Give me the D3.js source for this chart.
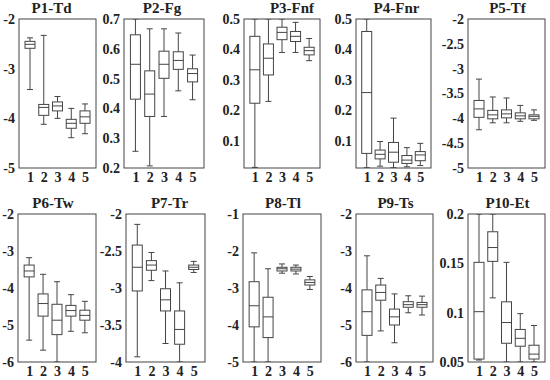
<!DOCTYPE html>
<html>
<head>
<meta charset="utf-8">
<script src="https://cdn.jsdelivr.net/npm/d3@7"></script>
<style>
  body { margin: 0; background: #fff; }
  svg { display: block; }
  .tick text { font-family: "Times New Roman", "Liberation Serif", Tinos, serif; font-weight: bold; font-size: 14px; fill: #222; }
  .title { font-family: "Times New Roman", "Liberation Serif", Tinos, serif; font-weight: bold; font-size: 15px; fill: #222; }
</style>
</head>
<body>
<svg id="chart"></svg>
<script>
// groups on the x axis
let groups = ['1', '2', '3', '4', '5']

// panel titles
let titles = ['P1-Td', 'P2-Fg', 'P3-Fnf', 'P4-Fnr', 'P5-Tf',
              'P6-Tw', 'P7-Tr', 'P8-Tl', 'P9-Ts', 'P10-Et']

// y ranges and tick labels
let yDomains = [[-5, -2], [0.2, 0.7], [0.01, 0.5], [0.01, 0.5], [-5, -2],
                [-6, -2], [-4, -2], [-5, -1], [-6, -2], [0.05, 0.2]]
let yTicks = [
  [-2, -3, -4, -5],
  [0.2, 0.3, 0.4, 0.5, 0.6, 0.7],
  [0.1, 0.2, 0.3, 0.4, 0.5],
  [0.1, 0.2, 0.3, 0.4, 0.5],
  [-2, -2.5, -3, -3.5, -4, -4.5, -5],
  [-2, -3, -4, -5, -6],
  [-2, -2.5, -3, -3.5, -4],
  [-1, -2, -3, -4, -5],
  [-2, -3, -4, -5, -6],
  [0.05, 0.1, 0.15, 0.2]
]

// box stats per group: [low whisker, q1, median, q3, high whisker]
let p1 = [[-3.42, -2.59, -2.51, -2.45, -2.38], [-4.12, -3.94, -3.78, -3.72, -2.33],
          [-4.00, -3.85, -3.75, -3.67, -3.56], [-4.39, -4.20, -4.10, -4.02, -3.80],
          [-4.31, -4.10, -3.97, -3.85, -3.71]]
let p2 = [[0.256, 0.431, 0.548, 0.647, 0.70], [0.207, 0.373, 0.448, 0.526, 0.667],
          [0.373, 0.501, 0.548, 0.592, 0.667], [0.459, 0.531, 0.561, 0.590, 0.653],
          [0.429, 0.489, 0.517, 0.533, 0.579]]
let p3 = [[0.012, 0.223, 0.333, 0.443, 0.50], [0.229, 0.316, 0.371, 0.418, 0.50],
          [0.390, 0.432, 0.456, 0.473, 0.50], [0.390, 0.426, 0.443, 0.459, 0.489],
          [0.363, 0.382, 0.396, 0.407, 0.436]]
let p4 = [[0.011, 0.058, 0.258, 0.459, 0.50], [0.016, 0.040, 0.055, 0.069, 0.097],
          [0.011, 0.029, 0.062, 0.094, 0.174], [0.014, 0.025, 0.036, 0.051, 0.077],
          [0.018, 0.034, 0.053, 0.064, 0.091]]
let p5 = [[-4.23, -3.98, -3.81, -3.64, -3.21], [-4.09, -4.01, -3.93, -3.84, -3.57],
          [-4.09, -3.99, -3.91, -3.83, -3.59], [-4.06, -4.01, -3.95, -3.89, -3.74],
          [-4.04, -4.01, -3.96, -3.93, -3.83]]
let p6 = [[-5.41, -3.70, -3.54, -3.38, -3.18], [-5.68, -4.76, -4.42, -4.16, -3.63],
          [-6.00, -5.26, -4.87, -4.44, -3.83], [-5.17, -4.76, -4.61, -4.47, -4.18],
          [-5.21, -4.87, -4.74, -4.60, -4.36]]
let p7 = [[-3.93, -3.04, -2.72, -2.42, -2.14], [-2.90, -2.76, -2.69, -2.63, -2.52],
          [-3.75, -3.31, -3.16, -3.01, -2.77], [-4.00, -3.76, -3.56, -3.31, -2.93],
          [-2.79, -2.75, -2.72, -2.69, -2.64]]
let p8 = [[-5.00, -4.05, -3.48, -2.83, -2.05], [-5.00, -4.34, -3.78, -3.25, -2.48],
          [-2.60, -2.54, -2.48, -2.44, -2.35], [-2.62, -2.54, -2.49, -2.44, -2.38],
          [-3.04, -2.92, -2.85, -2.78, -2.69]]
let p9 = [[-6.00, -5.28, -4.64, -4.05, -3.13], [-5.16, -4.33, -4.12, -3.92, -3.74],
          [-5.48, -5.00, -4.78, -4.57, -4.16], [-4.67, -4.52, -4.45, -4.37, -4.21],
          [-4.73, -4.52, -4.45, -4.39, -4.22]]
let p10 = [[0.052, 0.053, 0.101, 0.151, 0.20], [0.115, 0.152, 0.166, 0.182, 0.20],
           [0.050, 0.069, 0.090, 0.111, 0.151], [0.050, 0.066, 0.074, 0.083, 0.099],
           [0.050, 0.053, 0.058, 0.067, 0.087]]

let stats = [p1, p2, p3, p4, p5, p6, p7, p8, p9, p10]

let width = 550
let height = 380

// frame edges of each panel (left, right) and rows (top, bottom)
let frameX = [[19, 96], [124, 204], [244, 320], [356, 431], [468, 545],
              [18, 96], [126, 205], [243, 321], [356, 433], [468, 545]]
let frameY = [[19, 168], [214, 362]]
let titleDx = [-6, -2, 10, 3, 1, -4, 4, 1, 1, 1]

let boxW = 10
let capW = 6
let ink = '#444'

let svg = d3.select('#chart')
            .attr('width', width)
            .attr('height', height)

let drawPanel = (i) => {
  let [x0, x1] = frameX[i]
  let [y0, y1] = frameY[Math.floor(i / 5)]
  let w = x1 - x0
  let h = y1 - y0

  let xScale = d3.scalePoint()
                 .domain(groups)
                 .range([0, w])
                 .padding(0.8)
  let yScale = d3.scaleLinear()
                 .domain(yDomains[i])
                 .range([h, 0])

  let g = svg.append('g')
             .attr('transform', 'translate(' + x0 + ',' + y0 + ')')

  let clip = 'clip' + i
  g.append('clipPath').attr('id', clip)
   .append('rect').attr('width', w).attr('height', h)

  let boxes = g.append('g')
               .attr('clip-path', 'url(#' + clip + ')')
               .selectAll('g')
               .data(stats[i])
               .enter()
               .append('g')
               .attr('transform', (d, j) => 'translate(' + xScale(groups[j]) + ',0)')
               .attr('stroke', ink)
               .attr('stroke-width', 1)
               .attr('fill', 'none')

  // whiskers
  boxes.append('line')
       .attr('y1', (d) => yScale(d[0]))
       .attr('y2', (d) => yScale(d[1]))
  boxes.append('line')
       .attr('y1', (d) => yScale(d[3]))
       .attr('y2', (d) => yScale(d[4]))
  // caps
  boxes.append('line')
       .attr('x1', -capW / 2).attr('x2', capW / 2)
       .attr('y1', (d) => yScale(d[0])).attr('y2', (d) => yScale(d[0]))
  boxes.append('line')
       .attr('x1', -capW / 2).attr('x2', capW / 2)
       .attr('y1', (d) => yScale(d[4])).attr('y2', (d) => yScale(d[4]))
  // box
  boxes.append('rect')
       .attr('x', -boxW / 2)
       .attr('width', boxW)
       .attr('y', (d) => yScale(d[3]))
       .attr('height', (d) => yScale(d[1]) - yScale(d[3]))
       .attr('fill', '#fff')
  // median
  boxes.append('line')
       .attr('x1', -boxW / 2).attr('x2', boxW / 2)
       .attr('y1', (d) => yScale(d[2])).attr('y2', (d) => yScale(d[2]))

  let yAxis = d3.axisLeft(yScale)
                .tickValues(yTicks[i])
                .tickSize(0)
                .tickPadding(4)
                .tickFormat((d) => String(d))
  let xAxis = d3.axisBottom(xScale)
                .tickSize(0)
                .tickPadding(4)

  g.append('g').call(yAxis).call((a) => a.select('.domain').remove())
  g.append('g')
   .attr('transform', 'translate(0,' + h + ')')
   .call(xAxis)
   .call((a) => a.select('.domain').remove())

  g.append('rect')
   .attr('width', w)
   .attr('height', h)
   .attr('fill', 'none')
   .attr('stroke', ink)
   .attr('stroke-width', 1)

  g.append('text')
   .attr('class', 'title')
   .attr('x', w / 2 + titleDx[i])
   .attr('y', -6)
   .attr('text-anchor', 'middle')
   .text(titles[i])
}

for (let i = 0; i < titles.length; i++) {
  drawPanel(i)
}
</script>
</body>
</html>
